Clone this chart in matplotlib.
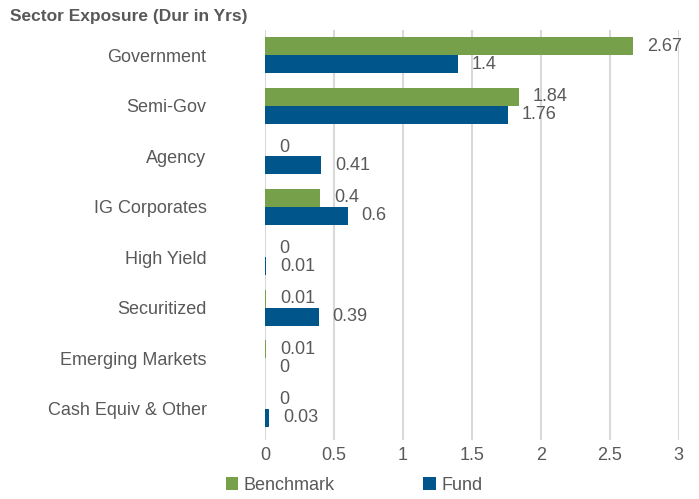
import matplotlib.pyplot as plt
import numpy as np

sectors = ["Government", "Semi-Gov", "Agency", "IG Corporates", "High Yield",
           "Securitized", "Emerging Markets", "Cash Equiv & Other"]
benchmark = [2.67, 1.84, 0, 0.4, 0, 0.01, 0.01, 0]
fund = [1.4, 1.76, 0.41, 0.6, 0.01, 0.39, 0, 0.03]

plt.rcParams['font.family'] = ['Liberation Sans', 'DejaVu Sans']

green = "#77A04A"
blue = "#00558B"
txt = "#595959"

fig = plt.figure(figsize=(6.99, 4.99), dpi=100)
ax = fig.add_axes([0.379, 0.118, 0.592, 0.822])

y = np.arange(len(sectors))
h = 0.36
ax.barh(y - h / 2, benchmark, height=h, color=green, label="Benchmark", zorder=3)
ax.barh(y + h / 2, fund, height=h, color=blue, label="Fund", zorder=3)

for i in range(len(sectors)):
    ax.annotate(f"{benchmark[i]:g}", (benchmark[i], y[i] - h / 2), xytext=(10, 0),
                textcoords="offset points", va="center", ha="left", fontsize=13, color=txt)
    ax.annotate(f"{fund[i]:g}", (fund[i], y[i] + h / 2), xytext=(10, 0),
                textcoords="offset points", va="center", ha="left", fontsize=13, color=txt)

ax.set_xlim(0, 3)
ax.set_ylim(7.62, -0.5)
ax.set_xticks(np.arange(0, 3.01, 0.5))
ax.set_xticklabels(["0", "0.5", "1", "1.5", "2", "2.5", "3"])
ax.set_yticks(y)
ax.set_yticklabels(sectors)
ax.tick_params(axis="both", length=0, labelsize=13, colors=txt)
ax.tick_params(axis="y", pad=42)
ax.tick_params(axis="x", pad=5)
ax.grid(axis="x", color="#D9D9D9", linewidth=1.5, zorder=0)
for s in ax.spines.values():
    s.set_visible(False)

fig.text(0.015, 0.966, "Sector Exposure (Dur in Yrs)", fontsize=12.5, fontweight="bold",
         color=txt, va="center", ha="left")

fig.legend(loc="center left", bbox_to_anchor=(0.31, 0.027), ncol=2, frameon=False,
           fontsize=13, labelcolor=txt, handlelength=0.7, handleheight=0.7,
           handletextpad=0.3, columnspacing=4.9, borderpad=0)

plt.savefig("out.png", dpi=100)
